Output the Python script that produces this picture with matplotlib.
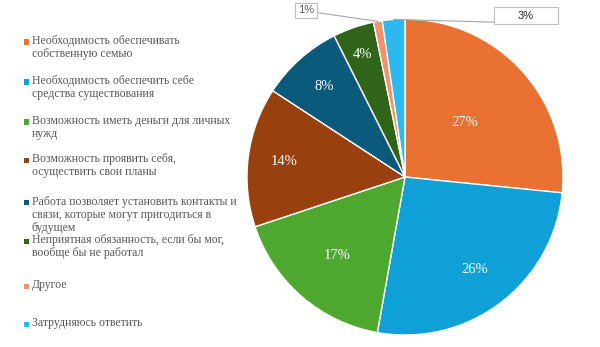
import numpy as np
import matplotlib

matplotlib.use("Agg")
import matplotlib.pyplot as plt
from matplotlib.patches import Rectangle

categories = [
    "Необходимость обеспечивать\nсобственную семью",
    "Необходимость обеспечить себе\nсредства существования",
    "Возможность иметь деньги для личных\nнужд",
    "Возможность проявить себя,\nосуществить свои планы",
    "Работа позволяет установить контакты и\nсвязи, которые могут пригодиться в\nбудущем",
    "Неприятная обязанность, если бы мог,\nвообще бы не работал",
    "Другое",
    "Затрудняюсь ответить",
]
shares = [26.6, 26.2, 17.1, 14.3, 8.4, 4.2, 0.9, 2.3]
share_labels = ["27%", "26%", "17%", "14%", "8%", "4%", "1%", "3%"]
colors = ["#E97132", "#10A0D8", "#4EA72E", "#99400F",
          "#0B5A7C", "#306419", "#F1926A", "#2DB8EF"]

W, H = 600, 347
fig = plt.figure(figsize=(6, 3.47), dpi=100)

# pie: centre ~ (405, 177) px, radius ~158 px
cx, cy, r = 405, 177, 158
ax = fig.add_axes([(cx - r) / W, (H - cy - r) / H, 2 * r / W, 2 * r / H])
wedges, _ = ax.pie(shares, colors=colors, startangle=90, counterclock=False,
                   radius=1, wedgeprops=dict(edgecolor="white", linewidth=1))
ax.set_xlim(-1, 1)
ax.set_ylim(-1, 1)
ax.set_aspect("equal")
ax.axis("off")

# inside labels, Excel "best fit" distances
label_dist = [0.51, 0.73, 0.66, 0.77, 0.77, 0.82]
for w, lab, d in zip(wedges[:6], share_labels[:6], label_dist):
    a = np.deg2rad((w.theta1 + w.theta2) / 2)
    ax.text(d * np.cos(a), d * np.sin(a), lab, ha="center", va="center",
            color="white", fontsize=10.5, family="Liberation Serif")

# callouts for the two small slices
callouts = {6: ((-0.627, 1.054), 0.14, 0.095, (-0.555, 1.04), "#595959"),
            7: ((0.766, 1.022), 0.405, 0.107, (0.563, 0.98), "#262626")}
for i, ((bx, by), bw, bh, (lx, ly), tc) in callouts.items():
    w = wedges[i]
    a = np.deg2rad((w.theta1 + w.theta2) / 2)
    ax.plot([lx, np.cos(a)], [ly, np.sin(a)], color="#A6A6A6", lw=0.8,
            clip_on=False)
    ax.add_patch(Rectangle((bx - bw / 2, by - bh / 2), bw, bh, facecolor="white",
                           edgecolor="#BFBFBF", lw=0.8, clip_on=False, zorder=3))
    ax.text(bx, by, share_labels[i], ha="center", va="center", fontsize=8,
            color=tc, family="Liberation Sans", zorder=4)

# legend on the left (Excel spaces the entries unevenly)
legend_rows = [42, 82, 122, 160, 203, 241, 286, 324]  # px from top
for lab, col, y in zip(categories, colors, legend_rows):
    fig.patches.append(Rectangle((24 / W, 1 - (y + 2.5) / H), 5 / W, 5 / H,
                                 transform=fig.transFigure, facecolor=col,
                                 edgecolor="none"))
    fig.text(32 / W, 1 - (y - 7) / H, lab, ha="left", va="top", fontsize=8.5,
             color="#595959", family="Liberation Serif", linespacing=1.12)

fig.savefig("out.png", dpi=100)
plt.close(fig)
